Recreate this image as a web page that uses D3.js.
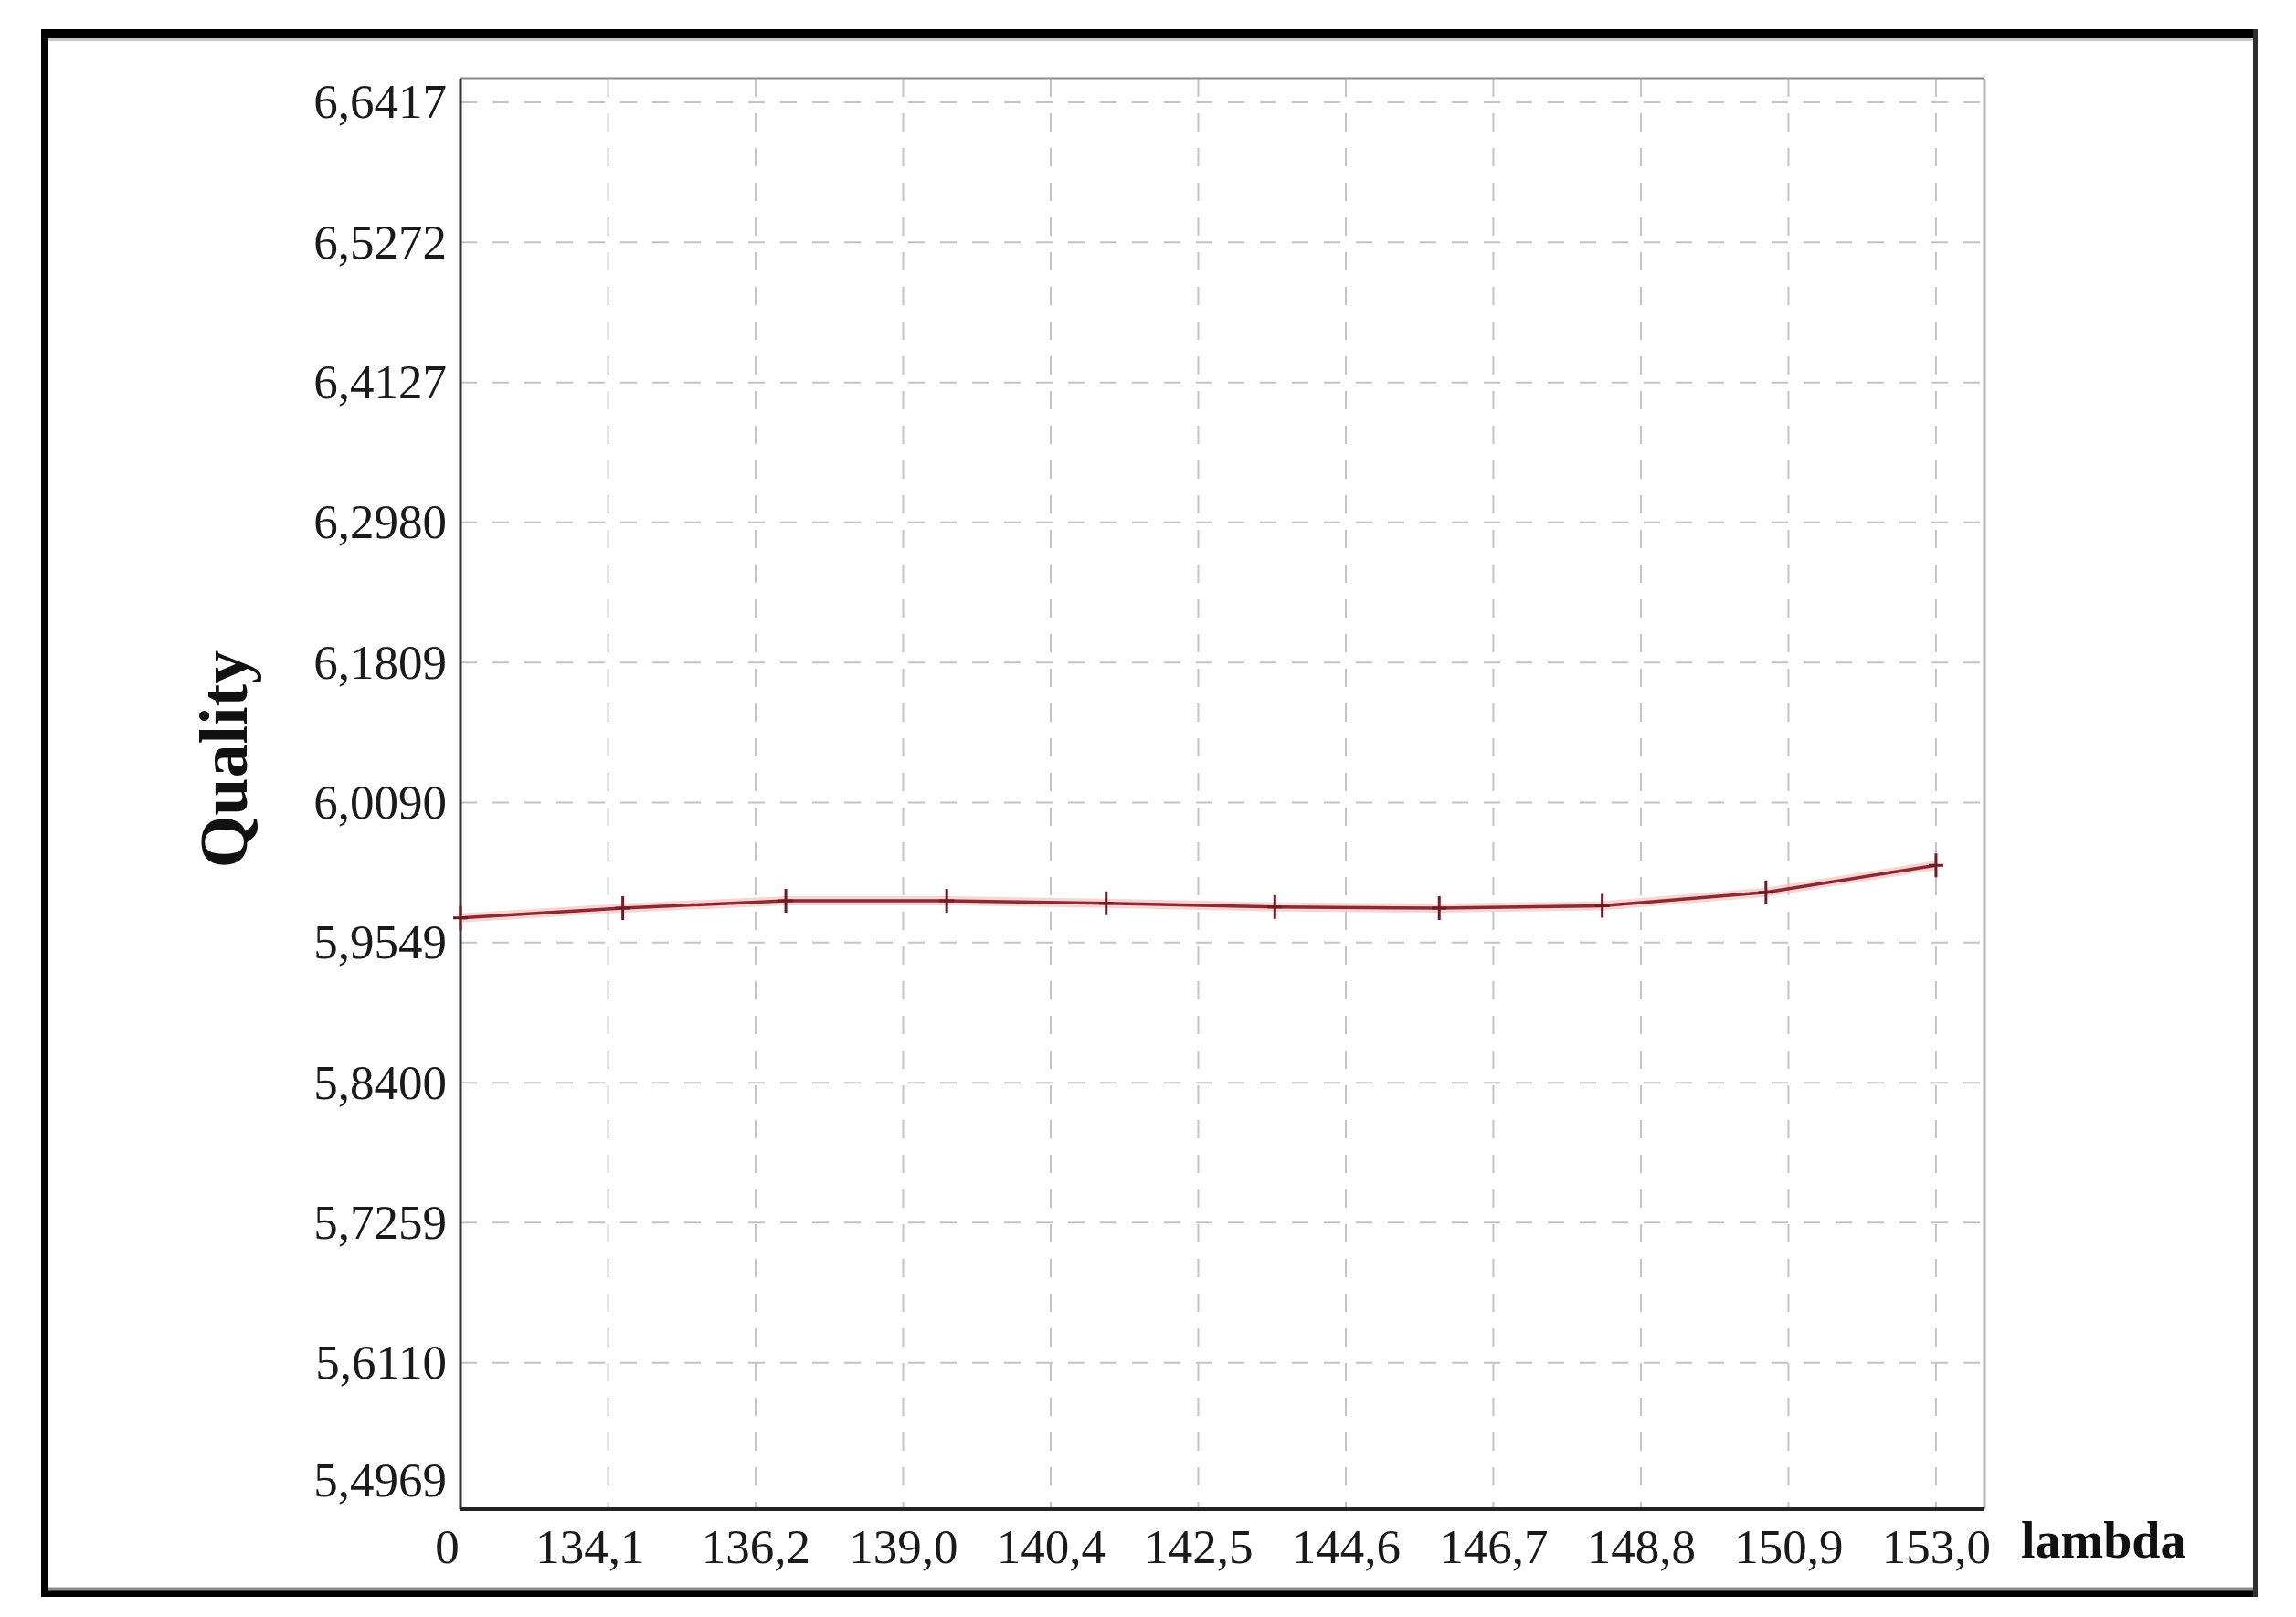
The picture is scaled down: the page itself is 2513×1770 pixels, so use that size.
<!DOCTYPE html>
<html>
<head>
<meta charset="utf-8">
<script src="https://cdn.jsdelivr.net/npm/d3@7"></script>
<style>
  body { margin: 0; background: #fff; }
  svg { display: block; }
</style>
</head>
<body>
<div id="chart"></div>
<script>
// values
var lambda = [132.0, 134.31, 136.63, 138.92, 141.19, 143.59, 145.93, 148.25, 150.58, 153.0];
var quality = [5.975, 5.983, 5.989, 5.989, 5.987, 5.984, 5.983, 5.985, 5.996, 6.018];

// the printed tick labels sit on evenly spaced grid lines
var xTicks = [132.0, 134.1, 136.2, 138.3, 140.4, 142.5, 144.6, 146.7, 148.8, 150.9, 153.0];
var xTickLabels = ["0", "134,1", "136,2", "139,0", "140,4", "142,5", "144,6", "146,7", "148,8", "150,9", "153,0"];
var yTicks = [5.4969, 5.6114, 5.7259, 5.8403, 5.9548, 6.0693, 6.1838, 6.2983, 6.4127, 6.5272, 6.6417];
var yTickLabels = ["5,4969", "5,6110", "5,7259", "5,8400", "5,9549", "6,0090", "6,1809", "6,2980", "6,4127", "6,5272", "6,6417"];

var margin = {top: 86, right: 341, bottom: 118, left: 504},
    width = 2513 - margin.left - margin.right,
    height = 1770 - margin.top - margin.bottom;

var root = d3.select("#chart").append("svg")
    .attr("width", 2513)
    .attr("height", 1770);

root.append("rect")
    .attr("width", 2513)
    .attr("height", 1770)
    .attr("fill", "#fff");

// outer frame, edges are not all the same weight
var frame = [
    {x: 45, y: 32, w: 2426, h: 10, c: "#000"},
    {x: 45, y: 32, w: 8, h: 1716, c: "#000"},
    {x: 45, y: 1740, w: 2426, h: 8, c: "#000"},
    {x: 2466, y: 32, w: 5, h: 1716, c: "#2e2e2e"}
];
root.selectAll("rect.frame")
    .data(frame)
    .enter()
    .append("rect")
    .attr("class", "frame")
    .attr("x", function(d) { return d.x; })
    .attr("y", function(d) { return d.y; })
    .attr("width", function(d) { return d.w; })
    .attr("height", function(d) { return d.h; })
    .attr("fill", function(d) { return d.c; });
root.append("line")
    .attr("x1", 53).attr("x2", 2466)
    .attr("y1", 1739).attr("y2", 1739)
    .attr("stroke", "#8c8c8c")
    .attr("stroke-width", 3);
root.append("line")
    .attr("x1", 53).attr("x2", 2466)
    .attr("y1", 43.5).attr("y2", 43.5)
    .attr("stroke", "#c8c8c8")
    .attr("stroke-width", 3);

var svg = root.append("g")
    .attr("transform", "translate(" + margin.left + "," + margin.top + ")");

var x = d3.scaleLinear()
    .domain([132, 153.69])
    .range([0, width]);

var y = d3.scaleLinear()
    .domain([5.4917, 6.6611])
    .range([height, 0]);

// grid
svg.append("g")
    .selectAll("line.hgrid")
    .data(yTicks.slice(1))
    .enter()
    .append("line")
    .attr("class", "hgrid")
    .attr("x1", 0)
    .attr("x2", width)
    .attr("y1", function(d) { return y(d); })
    .attr("y2", function(d) { return y(d); })
    .attr("stroke", "#c4c4c4")
    .attr("stroke-width", 2)
    .attr("stroke-dasharray", "18,17");

svg.append("g")
    .selectAll("line.vgrid")
    .data(xTicks.slice(1))
    .enter()
    .append("line")
    .attr("class", "vgrid")
    .attr("x1", function(d) { return x(d); })
    .attr("x2", function(d) { return x(d); })
    .attr("y1", 0)
    .attr("y2", height)
    .attr("stroke", "#c4c4c4")
    .attr("stroke-width", 2)
    .attr("stroke-dasharray", "20,18");

// plot border: top/right light, left/bottom dark
svg.append("line")
    .attr("x1", 0).attr("x2", width)
    .attr("y1", 0).attr("y2", 0)
    .attr("stroke", "#8a8a8a")
    .attr("stroke-width", 3);
svg.append("line")
    .attr("x1", width).attr("x2", width)
    .attr("y1", 0).attr("y2", height)
    .attr("stroke", "#b4b4b4")
    .attr("stroke-width", 3);

// axes (labels only, lines drawn below)
var yAxis = svg.append("g")
    .call(d3.axisLeft(y)
        .tickValues(yTicks)
        .tickSize(0)
        .tickPadding(15)
        .tickFormat(function(d, i) { return yTickLabels[i]; }));
yAxis.select(".domain").remove();
yAxis.selectAll("text")
    .attr("y", function(d, i) { return i === 0 ? -25 : 0; })
    .style("font-family", "'Liberation Serif', 'Times New Roman', serif")
    .style("font-size", "53px")
    .attr("fill", "#1a1a1a");

var xAxis = svg.append("g")
    .attr("transform", "translate(0," + height + ")")
    .call(d3.axisBottom(x)
        .tickValues(xTicks)
        .tickSize(0)
        .tickPadding(21)
        .tickFormat(function(d, i) { return xTickLabels[i]; }));
xAxis.select(".domain").remove();
xAxis.selectAll("text")
    .attr("dx", function(d, i) { return i === 0 ? -15 : (i === 1 ? -20 : 0); })
    .style("font-family", "'Liberation Serif', 'Times New Roman', serif")
    .style("font-size", "53px")
    .attr("fill", "#1a1a1a");

svg.append("line")
    .attr("x1", 0).attr("x2", 0)
    .attr("y1", 0).attr("y2", height)
    .attr("stroke", "#333")
    .attr("stroke-width", 3);
svg.append("line")
    .attr("x1", 0).attr("x2", width)
    .attr("y1", height).attr("y2", height)
    .attr("stroke", "#222")
    .attr("stroke-width", 4);

// axis titles
root.append("text")
    .attr("transform", "translate(270,831) rotate(-90)")
    .attr("text-anchor", "middle")
    .style("font-family", "'Liberation Serif', 'Times New Roman', serif")
    .style("font-weight", "bold")
    .style("font-size", "74px")
    .attr("fill", "#111")
    .text("Quality");

root.append("text")
    .attr("x", 2212)
    .attr("y", 1705)
    .style("font-family", "'Liberation Serif', 'Times New Roman', serif")
    .style("font-weight", "bold")
    .style("font-size", "56px")
    .attr("fill", "#111")
    .text("lambda");

// series
var pts = lambda.map(function(l, i) { return {x: l, y: quality[i]}; });

var line = d3.line()
    .x(function(d) { return x(d.x); })
    .y(function(d) { return y(d.y); });

svg.append("path")
    .datum(pts)
    .attr("fill", "none")
    .attr("stroke", "#f2b9b9")
    .attr("stroke-opacity", 0.6)
    .attr("stroke-width", 10)
    .attr("d", line);

svg.append("path")
    .datum(pts)
    .attr("fill", "none")
    .attr("stroke", "#8c2a33")
    .attr("stroke-width", 3.5)
    .attr("d", line);

svg.append("g")
    .selectAll("path.mark")
    .data(pts)
    .enter()
    .append("path")
    .attr("class", "mark")
    .attr("transform", function(d) { return "translate(" + x(d.x) + "," + y(d.y) + ")"; })
    .attr("d", "M0,-13V13M-8,0H8")
    .attr("stroke", "#6e1c25")
    .attr("stroke-width", 3);
</script>
</body>
</html>
